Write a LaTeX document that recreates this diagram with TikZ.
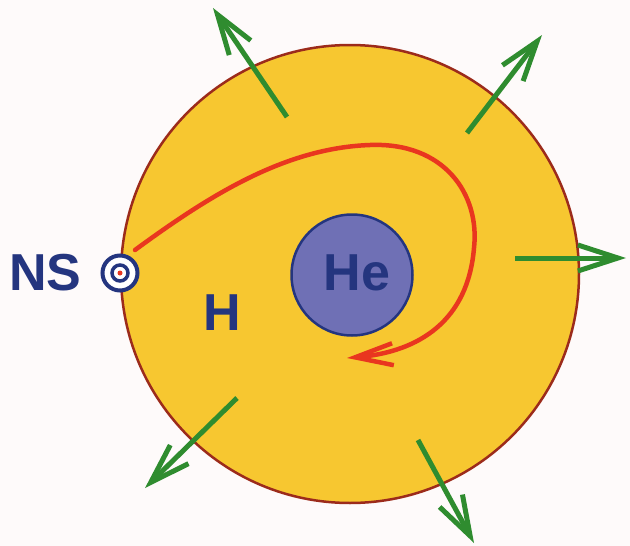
\documentclass[tikz,border=0pt]{standalone}
\usepackage{fontspec}
\setmainfont{Liberation Sans}
\setsansfont{Liberation Sans}
\usepackage{tikz}
\usetikzlibrary{arrows.meta, positioning}
\definecolor{envelope}{HTML}{F7C730}
\definecolor{rim}{HTML}{9C2B1B}
\definecolor{core}{HTML}{6F70B5}
\definecolor{navy}{HTML}{24357F}
\definecolor{orbit}{HTML}{E9361F}
\definecolor{wind}{HTML}{2F8C2F}
\definecolor{paper}{HTML}{FEFAFA}

\begin{document}
\begin{tikzpicture}[
    x=1pt, y=-1pt,
    shell/.style={circle, draw=rim, fill=envelope, line width=2.5pt, minimum size=458pt, inner sep=0pt},
    corebox/.style={circle, draw=navy, fill=core, line width=2.5pt, minimum size=121pt, inner sep=0pt},
    elem/.style={inner sep=0pt, font=\fontsize{52}{52}\selectfont\bfseries, text=navy},
    starring/.style={circle, draw=navy, fill=white, line width=4pt, minimum size=35pt, inner sep=0pt},
    stardot/.style={circle, draw=navy, fill=white, line width=3.5pt, minimum size=16pt, inner sep=0pt},
    outflow/.style={draw=wind, line width=5pt, -{Straight Barb[length=40pt, width=26pt]}},
    orbitline/.style={draw=orbit, line width=4.5pt, line cap=round, -{Straight Barb[length=38pt, width=22pt]}},
]
    \fill[paper] (0,0) rectangle (630,546);
    \useasboundingbox (0,0) rectangle (630,546);
    \node[shell] (env) at (350,274) {};
    \foreach \sx/\sy/\tx/\ty [count=\i] in {287/117/213/8, 467/133/542/35, 515/258/626/258, 237/398/145/488, 418/440/474/543} {
        \coordinate (base\i) at (\sx,\sy);
        \coordinate (tip\i) at (\tx,\ty);
        \draw[outflow] (base\i) -- (tip\i);
    }
    \node[corebox] (he) at (352,275) {};
    \node[elem] (helabel) at (357,273) {He};
    \node[starring] (ns) at (120,273) {};
    \node[stardot] (nsring) at (ns.center) {};
    \fill[orbit] (ns.center) circle (2.5pt);
    \node[elem, left=19pt of ns] (nslabel) {NS};
    \node[elem] (h) at (222,313) {H};
    \coordinate (orbitstart) at (135,250);
    \coordinate (orbittop) at (370,145);
    \coordinate (orbitright) at (474,248);
    \coordinate (orbitend) at (347,358);
    \draw[orbitline] (orbitstart) .. controls (210,195) and (285,148) .. (orbittop)
        .. controls (445,142) and (480,195) .. (orbitright)
        .. controls (468,320) and (420,352) .. (orbitend);
\end{tikzpicture}
\end{document}
